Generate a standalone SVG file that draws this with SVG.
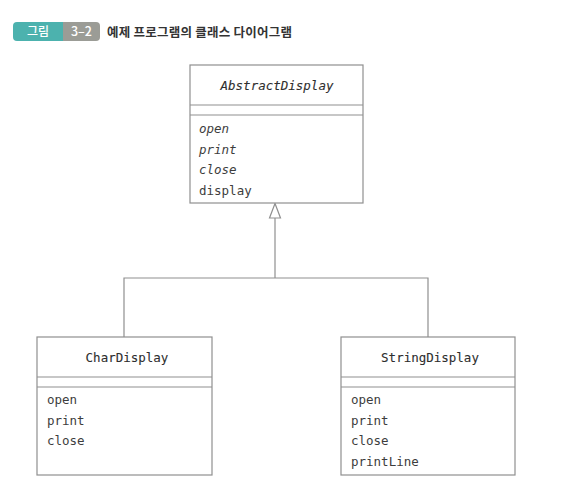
<svg xmlns="http://www.w3.org/2000/svg" width="564" height="492" viewBox="0 0 564 492">
<style>
.box{fill:#fff;stroke:#8f8f8f;stroke-width:1.2}
.ln{stroke:#8f8f8f;stroke-width:1.2;fill:none}
.t{font-family:"DejaVu Sans Mono","Liberation Mono",monospace;font-size:12.5px;fill:#3d3d3d}
.n{text-anchor:middle;fill:#2e2e2e;stroke:#2e2e2e;stroke-width:0.1}
.i{font-style:italic}
</style>
<rect width="564" height="492" fill="#fff"/>
<g id="title">
<path d="M17,22 H63 V41 H17 Q13,41 13,37 V26 Q13,22 17,22 Z" fill="#4cb2ae"/>
<path d="M63,22 H96 Q100,22 100,26 V37 Q100,41 96,41 H63 Z" fill="#9b9c96"/>
<text x="38" y="36" text-anchor="middle" font-family="'Noto Sans CJK KR',sans-serif" font-size="12" font-weight="500" fill="#fff">그림</text>
<text x="81.5" y="36" text-anchor="middle" font-family="'Noto Sans CJK KR',sans-serif" font-size="12.5" font-weight="500" fill="#fff">3–2</text>
<text x="107" y="36.5" font-family="'Noto Sans CJK KR',sans-serif" font-size="12.5" font-weight="bold" fill="#333" textLength="185">예제 프로그램의 클래스 다이어그램</text>
</g>
<g id="connectors">
<polyline class="ln" points="124,337 124,278 428,278 428,337"/>
<line class="ln" x1="275" y1="278" x2="275" y2="218"/>
<polygon points="275,203.5 269.5,218 280.5,218" fill="#fff" stroke="#8f8f8f" stroke-width="1.2"/>
</g>
<g id="AbstractDisplay">
<rect class="box" x="190" y="65" width="173" height="138"/>
<line class="ln" x1="190" y1="105" x2="363" y2="105"/>
<line class="ln" x1="190" y1="115" x2="363" y2="115"/>
<text class="t n i" x="277" y="90">AbstractDisplay</text>
<text class="t i" x="199" y="133">open</text>
<text class="t i" x="199" y="154">print</text>
<text class="t i" x="199" y="174">close</text>
<text class="t" x="199" y="195">display</text>
</g>
<g id="CharDisplay">
<rect class="box" x="37" y="337" width="175" height="138"/>
<line class="ln" x1="37" y1="377" x2="212" y2="377"/>
<line class="ln" x1="37" y1="387" x2="212" y2="387"/>
<text class="t n" x="127" y="362">CharDisplay</text>
<text class="t" x="47" y="404">open</text>
<text class="t" x="47" y="425">print</text>
<text class="t" x="47" y="445">close</text>
</g>
<g id="StringDisplay">
<rect class="box" x="341" y="337" width="174" height="138"/>
<line class="ln" x1="341" y1="377" x2="515" y2="377"/>
<line class="ln" x1="341" y1="387" x2="515" y2="387"/>
<text class="t n" x="430" y="362">StringDisplay</text>
<text class="t" x="351" y="404">open</text>
<text class="t" x="351" y="425">print</text>
<text class="t" x="351" y="445">close</text>
<text class="t" x="351" y="466">printLine</text>
</g>
</svg>
